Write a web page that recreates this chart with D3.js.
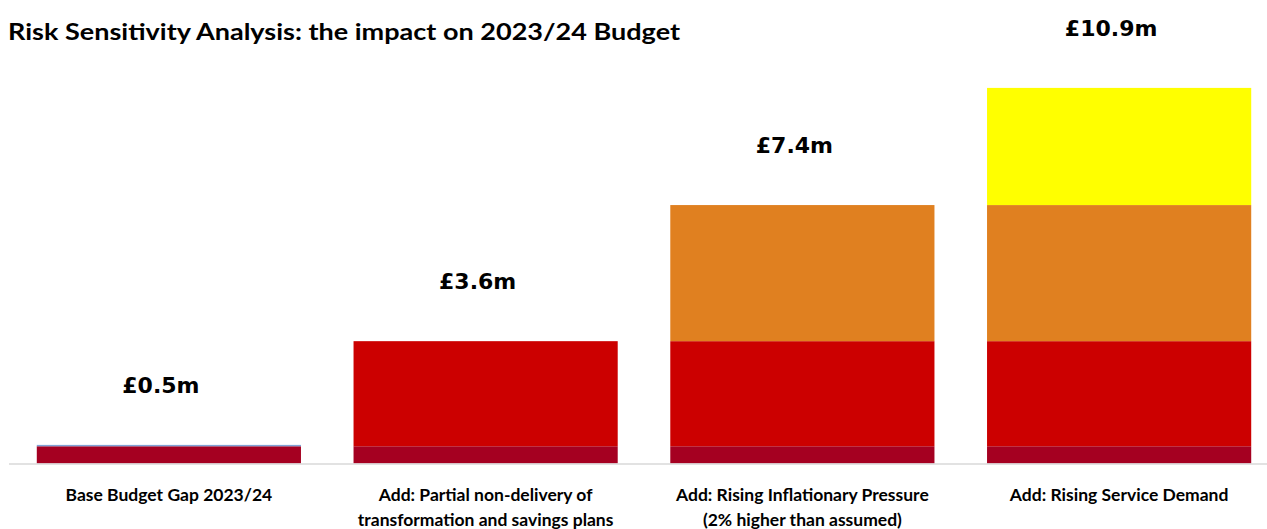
<!DOCTYPE html>
<html>
<head>
<meta charset="utf-8">
<script src="https://cdn.jsdelivr.net/npm/d3@7"></script>
<style>
  body { margin: 0; background: #fff; }
  svg { display: block; }
</style>
</head>
<body>
<svg id="chart" width="1267" height="529"></svg>
<script>
// categories (two-line axis labels)
const categories = [
  ["Base Budget Gap 2023/24"],
  ["Add: Partial non-delivery of", "transformation and savings plans"],
  ["Add: Rising Inflationary Pressure", "(2% higher than assumed)"],
  ["Add: Rising Service Demand"]
]

// stacked segments, £m
const baseGap   = [0.5, 0.5, 0.5, 0.5]
const baseEdge  = [0.04, 0, 0, 0]
const savings   = [0, 3.05, 3.05, 3.05]
const inflation = [0, 0, 3.95, 3.95]
const demand    = [0, 0, 0, 3.4]

const totalLabels = ["£0.5m", "£3.6m", "£7.4m", "£10.9m"]

const seriesKeys = ["baseGap", "baseEdge", "savings", "inflation", "demand"]
const colors = {
  baseGap: "#A50021",
  baseEdge: "#7FA3D6",
  savings: "#CC0000",
  inflation: "#E08020",
  demand: "#FFFF00"
}

const width = 1267, height = 529
const svg = d3.select("#chart")

// build table for d3.stack
const table = categories.map((c, i) => ({
  idx: i,
  baseGap: baseGap[i], baseEdge: baseEdge[i], savings: savings[i],
  inflation: inflation[i], demand: demand[i]
}))
const stacked = d3.stack().keys(seriesKeys)(table)

const x = d3.scaleBand()
  .domain(table.map(d => d.idx))
  .range([10.5, 1277.5])
  .paddingInner(0.166)
  .paddingOuter(0.083)

const y = d3.scaleLinear()
  .domain([0, 12])
  .range([463.5, 50])

// title
svg.append("text")
  .attr("x", 8)
  .attr("y", 40)
  .attr("font-family", "Lato, 'Open Sans', sans-serif")
  .attr("font-weight", "bold")
  .attr("font-size", 23)
  .attr("textLength", 672)
  .attr("lengthAdjust", "spacingAndGlyphs")
  .attr("fill", "#000")
  .text("Risk Sensitivity Analysis: the impact on 2023/24 Budget")

// bars
svg.append("g")
  .selectAll("g")
  .data(stacked)
  .join("g")
  .attr("fill", d => colors[d.key])
  .selectAll("rect")
  .data(d => d.filter(s => s[1] - s[0] > 0))
  .join("rect")
  .attr("x", d => x(d.data.idx))
  .attr("width", x.bandwidth())
  .attr("y", d => y(d[1]))
  .attr("height", d => y(d[0]) - y(d[1]))

// baseline
svg.append("line")
  .attr("x1", 9).attr("x2", width)
  .attr("y1", y(0) + 0.5).attr("y2", y(0) + 0.5)
  .attr("stroke", "#d9d9d9")
  .attr("stroke-width", 1.5)

// totals above bars
const totals = table.map(d => d3.sum(seriesKeys, k => d[k]))
svg.append("g")
  .selectAll("text")
  .data(totalLabels)
  .join("text")
  .attr("x", (d, i) => x(i) + x.bandwidth() / 2 - 8)
  .attr("y", (d, i) => y(totals[i]) - 52)
  .attr("text-anchor", "middle")
  .attr("font-family", "'DejaVu Sans', Verdana, sans-serif")
  .attr("font-weight", "bold")
  .attr("font-size", 22)
  .attr("fill", "#000")
  .text(d => d)

// category labels
const axis = svg.append("g")
  .attr("transform", `translate(0, ${y(0)})`)
axis.selectAll("text")
  .data(categories)
  .join("text")
  .attr("text-anchor", "middle")
  .attr("font-family", "Lato, 'Open Sans', sans-serif")
  .attr("font-weight", "bold")
  .attr("font-size", 17.5)
  .attr("fill", "#000")
  .attr("transform", (d, i) => `translate(${x(i) + x.bandwidth() / 2}, 0)`)
  .selectAll("tspan")
  .data(d => d)
  .join("tspan")
  .attr("x", 0)
  .attr("y", (d, j) => 37 + j * 25)
  .text(d => d)
</script>
</body>
</html>
